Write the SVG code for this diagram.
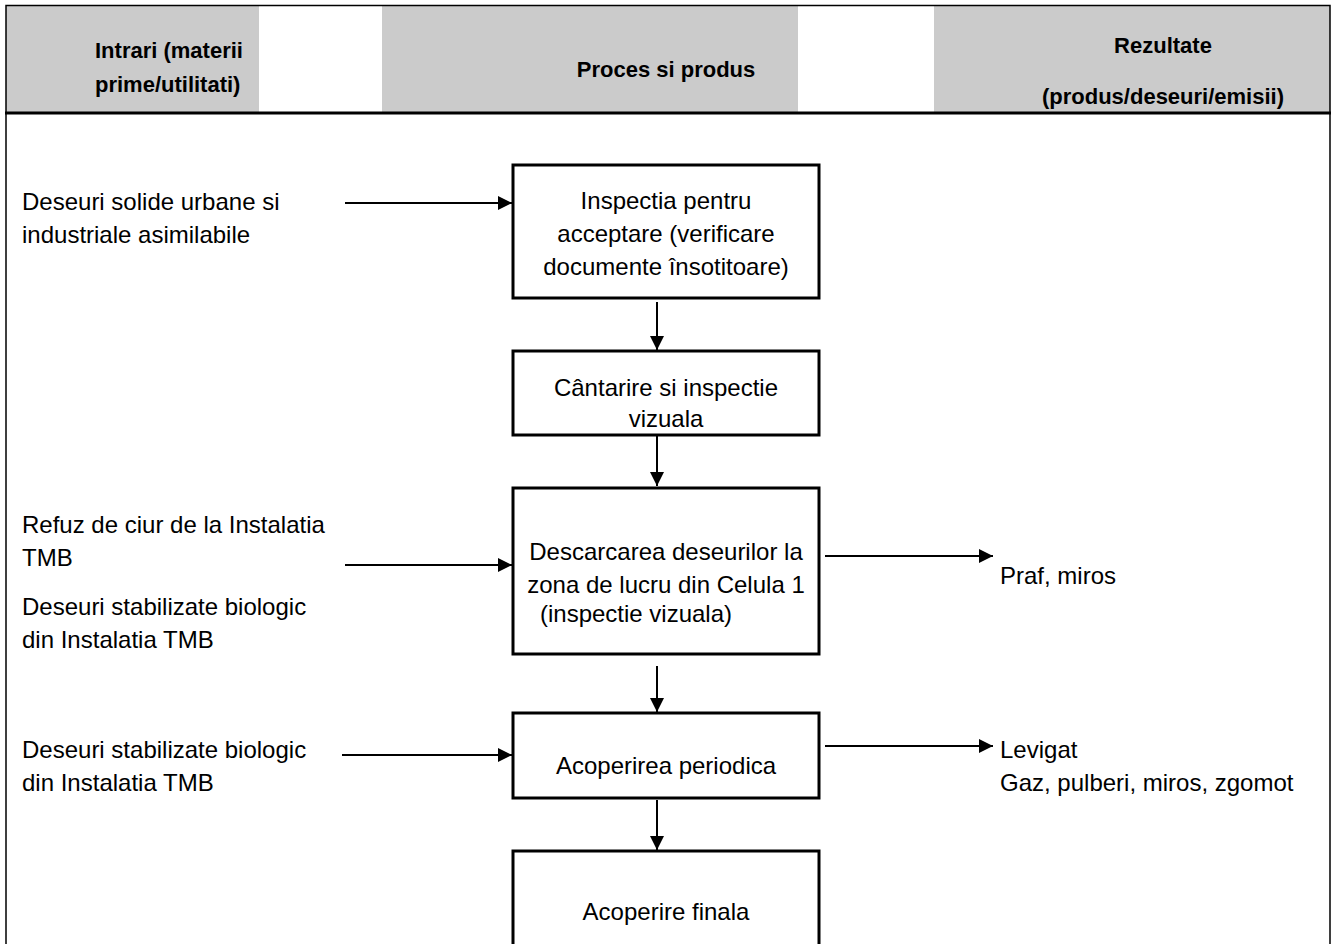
<svg xmlns="http://www.w3.org/2000/svg" width="1337" height="944" viewBox="0 0 1337 944">
<style>
text{font-family:"Liberation Sans",Arial,sans-serif;font-size:24px;fill:#000}
.h{font-weight:bold;font-size:22px;text-anchor:middle}
.hl{font-weight:bold;font-size:22px}
.c{text-anchor:middle}
.box{fill:#fff;stroke:#000;stroke-width:3}
.ar{stroke:#000;stroke-width:2;fill:none;marker-end:url(#ah)}
.grey{fill:#cbcbcb}
</style>
<defs>
<marker id="ah" markerWidth="14" markerHeight="14" refX="14" refY="7" orient="auto" markerUnits="userSpaceOnUse" viewBox="0 0 14 14">
<path d="M0,0 L14,7 L0,14 Z" fill="#000"/>
</marker>
</defs>
<rect width="1337" height="944" fill="#fff"/>
<g id="header">
<rect class="grey" x="6" y="6" width="253" height="107"/>
<rect class="grey" x="382" y="6" width="416" height="107"/>
<rect class="grey" x="934" y="6" width="396" height="107"/>
<text class="hl" x="95" y="58">Intrari (materii</text>
<text class="hl" x="95" y="92">prime/utilitati)</text>
<text class="h" x="666" y="77">Proces si produs</text>
<text class="h" x="1163" y="53">Rezultate</text>
<text class="h" x="1163" y="104">(produs/deseuri/emisii)</text>
</g>
<g id="frame" fill="none" stroke="#000">
<path d="M6,944 V5.5 H1330 V944" stroke-width="1.5"/>
<line x1="5" y1="113" x2="1331" y2="113" stroke-width="3"/>
</g>
<g id="inputs">
<text x="22" y="210">Deseuri solide urbane si</text>
<text x="22" y="243">industriale asimilabile</text>
<text x="22" y="533">Refuz de ciur de la Instalatia</text>
<text x="22" y="566">TMB</text>
<text x="22" y="615">Deseuri stabilizate biologic</text>
<text x="22" y="648">din Instalatia TMB</text>
<text x="22" y="758">Deseuri stabilizate biologic</text>
<text x="22" y="791">din Instalatia TMB</text>
</g>
<g id="outputs">
<text x="1000" y="584">Praf, miros</text>
<text x="1000" y="758">Levigat</text>
<text x="1000" y="791">Gaz, pulberi, miros, zgomot</text>
</g>
<g id="n1">
<rect class="box" x="513" y="165" width="306" height="133"/>
<text class="c" x="666" y="209">Inspectia pentru</text>
<text class="c" x="666" y="242">acceptare (verificare</text>
<text class="c" x="666" y="275">documente însotitoare)</text>
</g>
<g id="n2">
<rect class="box" x="513" y="351" width="306" height="84"/>
<text class="c" x="666" y="396">Cântarire si inspectie</text>
<text class="c" x="666" y="427">vizuala</text>
</g>
<g id="n3">
<rect class="box" x="513" y="488" width="306" height="166"/>
<text class="c" x="666" y="560">Descarcarea deseurilor la</text>
<text class="c" x="666" y="593">zona de lucru din Celula 1</text>
<text class="c" x="636" y="622">(inspectie vizuala)</text>
</g>
<g id="n4">
<rect class="box" x="513" y="713" width="306" height="85"/>
<text class="c" x="666" y="774">Acoperirea periodica</text>
</g>
<g id="n5">
<rect class="box" x="513" y="851" width="306" height="100"/>
<text class="c" x="666" y="920">Acoperire finala</text>
</g>
<g id="connectors">
<line class="ar" x1="345" y1="203" x2="512" y2="203"/>
<line class="ar" x1="657" y1="302" x2="657" y2="350"/>
<line class="ar" x1="657" y1="436" x2="657" y2="486"/>
<line class="ar" x1="345" y1="565" x2="512" y2="565"/>
<line class="ar" x1="825" y1="556" x2="993" y2="556"/>
<line class="ar" x1="657" y1="666" x2="657" y2="712"/>
<line class="ar" x1="342" y1="755" x2="512" y2="755"/>
<line class="ar" x1="825" y1="746" x2="993" y2="746"/>
<line class="ar" x1="657" y1="800" x2="657" y2="850"/>
</g>
</svg>
